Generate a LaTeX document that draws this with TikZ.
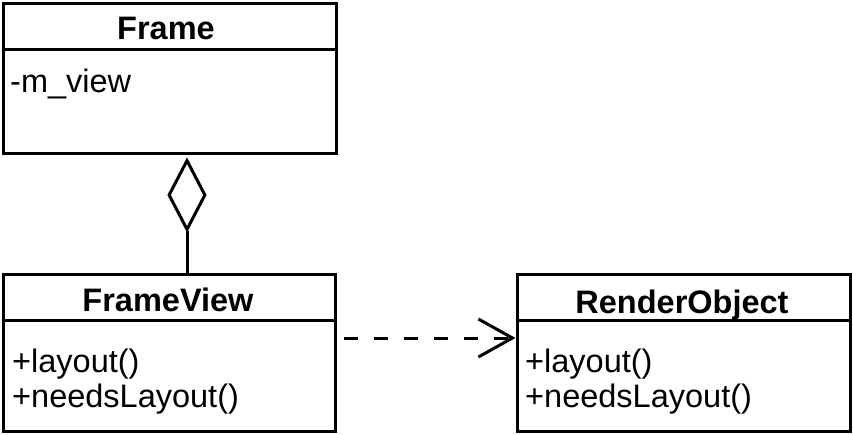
\documentclass[tikz,border=0pt]{standalone}
\usepackage{fontspec}
\setmainfont{Liberation Sans}
\usetikzlibrary{shapes.geometric,arrows.meta}
\begin{document}
\begin{tikzpicture}[x=1pt,y=-1pt,
  classbox/.style={draw,line width=3pt,rectangle,inner sep=0pt},
  divider/.style={line width=3pt},
  title/.style={anchor=base,inner sep=0pt,font=\fontsize{32.5}{38}\selectfont\bfseries},
  member/.style={anchor=base west,inner sep=0pt,font=\fontsize{32.5}{38}\selectfont},
  aggr/.style={draw,diamond,line width=3pt,inner sep=0pt,minimum width=37pt,minimum height=70pt},
  assoc/.style={line width=3pt},
  dep/.style={line width=3pt,dash pattern=on 14pt off 16pt,-{Straight Barb[length=34pt,width=38pt,line width=3pt]}}
]
\useasboundingbox (0,0) rectangle (853,435);
% boxes
\node[classbox,minimum width=333pt,minimum height=150pt] (frame) at (169.5,79) {};
\node[classbox,minimum width=332pt,minimum height=156pt] (fv) at (169,353) {};
\node[classbox,minimum width=333pt,minimum height=156pt] (ro) at (683.5,353) {};
% dividers
\draw[divider] (frame.west |- 0,50) -- (frame.east |- 0,50);
\draw[divider] (fv.west |- 0,320) -- (fv.east |- 0,320);
\draw[divider] (ro.west |- 0,320) -- (ro.east |- 0,320);
% texts
\node[title] (tframe) at (166,40) {Frame};
\node[member] (mview) at (10,93) {-m\_view};
\node[title] (tfv) at (168,312) {FrameView};
\node[member] (fvl) at (12,372) {+layout()};
\node[member] (fvn) at (12,407) {+needsLayout()};
\node[title] (tro) at (682,313) {RenderObject};
\node[member] (rol) at (525,372) {+layout()};
\node[member] (ron) at (525,407) {+needsLayout()};
% aggregation
\node[aggr] (agg) at (187,195) {};
\draw[assoc] (agg.south) -- (agg.south |- fv.north);
% dependency
\coordinate (ds) at ([shift={(7,-15)}]fv.east);
\draw[dep] (ds) -- (ds -| ro.west);
\end{tikzpicture}
\end{document}
